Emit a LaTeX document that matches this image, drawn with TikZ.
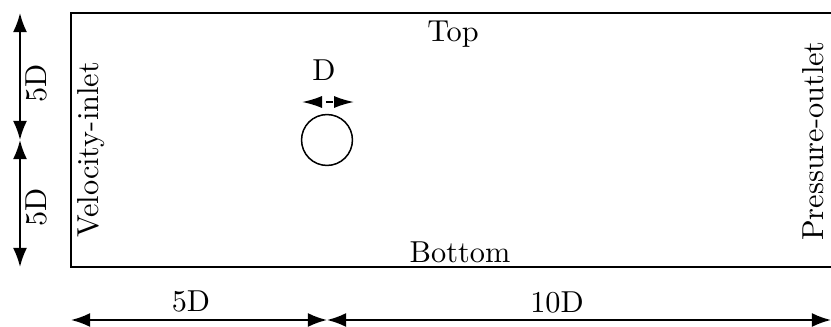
\documentclass[tikz,border=0pt]{standalone}
\usepackage{amsmath}
\usepackage{amsfonts}
\usepackage{amssymb}
\usepackage{tikz}
\usetikzlibrary{arrows.meta}

\begin{document}
\begin{tikzpicture}[x=0.33pt,y=-0.33pt,line width=0.6pt,>={Latex[length=6.3pt,width=4.6pt]}]
			\useasboundingbox (0,0) rectangle (831,326);
			\draw[line width=0.5pt] (71,13) rectangle (839,267);
			\node[draw,circle,line width=0.5pt,inner sep=0pt,minimum size=16.8pt] (cyl) at (327,140) {};
			\coordinate (dl) at (302,102); \coordinate (dr) at (354,102);
			\draw[<->,>={Latex[length=6.6pt,width=4pt]},dash pattern=on 0pt off 1.6pt on 2.2pt off 10pt] (dl) -- (dr);
			\node (dlab) at (324,70) {D};
			\coordinate (lt) at (20,13); \coordinate (lm) at (20,140); \coordinate (lb) at (20,267);
			\draw[<->] (lt) -- (lm); \draw[<->] (lm) -- (lb);
			\node[rotate=90] (htop) at (36,83) {5D};
			\node[rotate=90] (hbot) at (36,207) {5D};
			\coordinate (bl) at (71,320); \coordinate (bm) at (327,320); \coordinate (br) at (831,320);
			\draw[<->] (bl) -- (bm); \draw[<->] (bm) -- (br);
			\node (wleft) at (191,301) {5D};
			\node (wright) at (557,302) {10D};
			\node (top) at (453,34) {Top};
			\node (bottom) at (460,252) {Bottom};
			\node[rotate=90] (inlet) at (91,150) {Velocity-inlet};
			\node[rotate=90] (outlet) at (813,141) {Pressure-outlet};
		\end{tikzpicture}
\end{document}
